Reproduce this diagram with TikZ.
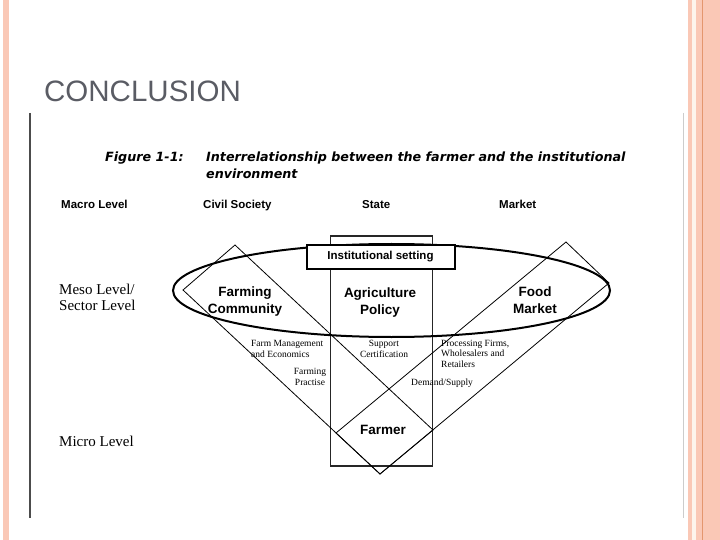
\documentclass[tikz,border=0pt]{standalone}
\usepackage{fontspec}
\setmainfont{Liberation Serif}
\newfontfamily\slidefont{Liberation Sans}
\newfontfamily\figfont{DejaVu Sans}
\usetikzlibrary{shapes.geometric}
\definecolor{salmon}{RGB}{250,200,182}
\definecolor{salmonoscuro}{RGB}{228,150,110}
\definecolor{crema}{RGB}{253,244,236}
\definecolor{gristitulo}{RGB}{90,92,100}
\tikzset{
	rombo/.style={draw, line width=0.8bp},
	etiqueta/.style={inner sep=0pt, anchor=base west, align=left, font=\fontsize{9.5bp}{10.5bp}\selectfont},
	negrita/.style={inner sep=0pt, anchor=base, align=center, font=\slidefont\bfseries\fontsize{13.5bp}{17bp}\selectfont},
	cabecera/.style={inner sep=0pt, anchor=base west, font=\slidefont\bfseries\fontsize{11.5bp}{13bp}\selectfont},
	nivel/.style={inner sep=0pt, anchor=base west, align=left, font=\fontsize{15bp}{16bp}\selectfont},
	figtexto/.style={inner sep=0pt, anchor=base west, font=\figfont\bfseries\itshape\fontsize{12.7bp}{15bp}\selectfont}
}
\begin{document}
\begin{tikzpicture}[x=1bp, y=-1bp]
	\useasboundingbox (0,0) rectangle (720,540);
	% bordes de la diapositiva
	\fill[salmon] (3,0) rectangle (9,540);
	\fill[salmon] (688,0) rectangle (720,540);
	\fill[crema] (692,0) rectangle (696,540);
	\draw[salmonoscuro, line width=1bp] (702.5,0) -- (702.5,540);
	\node[anchor=base west, inner sep=0pt, text=gristitulo, font=\slidefont\fontsize{29.5bp}{30bp}\selectfont] (conclusion) at (44,102) {CONCLUSION};
	% marco de la figura escaneada
	\draw[black!70, line width=1.2bp] (30,113) -- (30,518);
	\draw[black!20, line width=1bp] (683,113) -- (683,518);
	\node[figtexto] (fignum) at (105,162) {Figure 1-1:};
	\node[figtexto] (figtitulo) at (206,162) {Interrelationship between the farmer and the institutional};
	\node[figtexto] (figtitulo2) at (206,179) {environment};
	\node[cabecera] (macro) at (61,209) {Macro Level};
	\node[cabecera] (civil) at (203,209) {Civil Society};
	\node[cabecera] (estadolbl) at (362,209) {State};
	\node[cabecera] (mercado) at (499,209) {Market};
	\node[nivel] (meso) at (59,310) {Meso Level/\\Sector Level};
	\node[nivel] (micro) at (59,446) {Micro Level};
	% formas
	\node[draw=black!85, line width=1.3bp, minimum width=102bp, minimum height=230bp, inner sep=0pt] (estado) at (381.5,351) {};
	\node[ellipse, draw, line width=2bp, minimum width=437bp, minimum height=93bp, inner sep=0pt] (anillo) at (391.5,290.5) {};
	\coordinate (cs-arriba) at (235,245);
	\coordinate (cs-izq) at (183,290);
	\coordinate (cs-der) at (433,430);
	\coordinate (fondo) at (380,474);
	\coordinate (mk-arriba) at (566,242);
	\coordinate (mk-der) at (609,283);
	\coordinate (mk-izq) at (336,433);
	\draw[rombo] (cs-arriba) -- (cs-izq) -- (fondo) -- (cs-der) -- cycle;
	\draw[rombo] (mk-arriba) -- (mk-der) -- (fondo) -- (mk-izq) -- cycle;
	\node[draw, fill=white, line width=2bp, minimum width=148bp, minimum height=24bp, inner sep=0pt, font=\slidefont\bfseries\fontsize{11.5bp}{13bp}\selectfont] (marco) at (380.5,257) {Institutional setting};
	% textos
	\node[negrita] (comunidad) at (245,313) {Farming\\Community};
	\node[negrita] (politica) at (380,314) {Agriculture\\Policy};
	\node[negrita] (mercadolbl) at (535,313) {Food\\Market};
	\node[negrita] (granjero) at (383,434) {Farmer};
	\node[etiqueta] (gestion) at (251,357) {Farm Management\\and Economics};
	\node[etiqueta, align=center, anchor=base] (practica) at (310,385) {Farming\\Practise};
	\node[etiqueta, align=center, anchor=base] (apoyo) at (384,357) {Support\\Certification};
	\node[etiqueta] (empresas) at (441,367) {Processing Firms,\\Wholesalers and\\Retailers};
	\node[etiqueta] (demanda) at (411,385) {Demand/Supply};
\end{tikzpicture}
\end{document}
